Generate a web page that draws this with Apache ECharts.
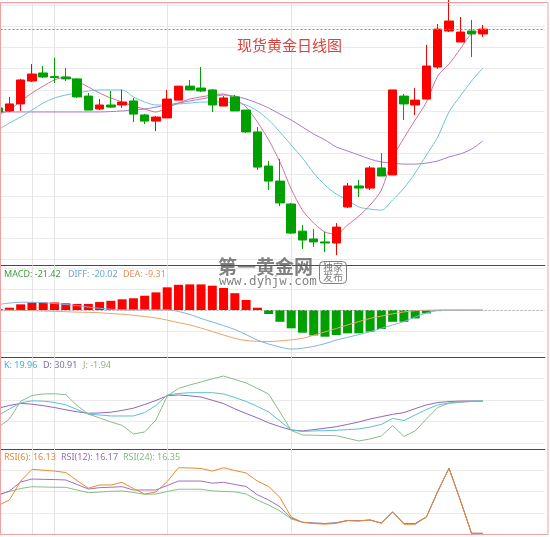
<!DOCTYPE html>
<html>
<head>
<meta charset="utf-8">
<script src="https://cdn.jsdelivr.net/npm/echarts@6/dist/echarts.min.js"></script>
<style>
  html, body { margin: 0; padding: 0; background: #fff; }
  #chart { width: 550px; height: 537px; }
</style>
</head>
<body>
<div id="chart"></div>
<script>
// 44 trading days plus a few empty slots on the right
const days = Array.from({ length: 49 }, (_, i) => String(i + 1));

// [open, close, lowest, highest]
const candles = [
  [1261.5, 1259.6, 1258.6, 1262.4], [1260.1, 1263.4, 1259.6, 1266.7], [1263.4, 1274.7, 1260.1, 1275.2],
  [1274.2, 1277.5, 1273.7, 1282.2], [1278.0, 1276.1, 1275.6, 1281.3], [1276.3, 1275.9, 1273.3, 1285.1],
  [1276.1, 1275.2, 1274.2, 1280.3], [1275.2, 1266.7, 1266.2, 1275.6], [1267.1, 1260.5, 1260.5, 1268.5],
  [1261.0, 1262.9, 1260.5, 1265.7], [1262.9, 1261.9, 1261.5, 1269.5], [1262.9, 1264.3, 1261.5, 1270.0],
  [1264.8, 1258.6, 1254.9, 1266.2], [1258.2, 1255.3, 1253.9, 1258.6], [1255.3, 1257.2, 1250.6, 1257.7],
  [1256.8, 1265.7, 1256.8, 1270.0], [1265.2, 1271.8, 1265.2, 1271.8], [1271.8, 1270.0, 1270.0, 1274.7],
  [1270.9, 1269.5, 1269.0, 1280.8], [1270.0, 1262.9, 1259.6, 1270.4], [1262.4, 1266.2, 1262.4, 1267.1],
  [1266.7, 1260.1, 1260.1, 1267.6], [1260.5, 1250.2, 1249.7, 1260.5], [1250.2, 1233.6, 1232.2, 1252.5],
  [1234.1, 1227.0, 1222.8, 1236.5], [1227.0, 1216.7, 1215.2, 1237.4], [1216.2, 1202.5, 1202.0, 1216.7],
  [1203.4, 1199.2, 1195.0, 1206.3], [1199.7, 1198.3, 1195.9, 1204.4], [1198.3, 1197.8, 1193.5, 1203.0],
  [1197.8, 1205.3, 1192.1, 1207.2], [1214.8, 1224.7, 1214.3, 1226.1], [1224.7, 1223.7, 1219.5, 1227.5],
  [1223.7, 1233.2, 1222.8, 1234.1], [1233.2, 1229.4, 1229.4, 1240.2], [1229.9, 1270.0, 1229.9, 1270.0],
  [1267.1, 1263.4, 1255.8, 1268.1], [1262.9, 1265.2, 1258.2, 1270.9], [1265.7, 1281.3, 1265.7, 1291.2],
  [1280.8, 1298.7, 1279.9, 1301.1], [1297.8, 1302.5, 1297.3, 1312.4], [1292.6, 1297.3, 1292.6, 1304.4],
  [1297.8, 1296.4, 1285.5, 1303.0], [1296.4, 1298.7, 1295.0, 1300.6]
];

const ma5 = [1258.6, 1260.5, 1264.8, 1268.5, 1271.8, 1274.7, 1276.1, 1274.2, 1271.4, 1268.5, 1266.2,
  1264.3, 1262.4, 1261.0, 1259.6, 1261.5, 1263.8, 1265.7, 1266.7, 1267.6, 1268.1, 1265.7, 1261.9,
  1254.9, 1246.4, 1236.0, 1223.3, 1213.3, 1207.2, 1203.0, 1202.0, 1206.3, 1210.5, 1215.7, 1222.8,
  1237.9, 1247.3, 1255.8, 1264.3, 1276.6, 1282.2, 1289.3, 1296.4, 1297.8];
const ma10 = [1251.1, 1254.4, 1257.2, 1260.5, 1263.8, 1266.2, 1267.6, 1268.5, 1269.5, 1270.0, 1270.0,
  1270.0, 1266.7, 1264.3, 1262.9, 1262.9, 1263.4, 1263.8, 1264.3, 1264.3, 1264.3, 1263.8, 1262.9,
  1260.1, 1255.8, 1250.2, 1244.0, 1237.9, 1230.8, 1225.1, 1220.9, 1218.1, 1214.8, 1213.8, 1213.3,
  1218.1, 1223.7, 1230.8, 1239.3, 1247.8, 1259.6, 1267.1, 1274.2, 1280.3];
const ma20 = [1259.6, 1259.6, 1259.6, 1259.6, 1259.6, 1259.6, 1259.6, 1259.6, 1259.6, 1259.6, 1259.8,
  1260.1, 1260.5, 1261.0, 1261.9, 1262.9, 1263.8, 1264.8, 1265.7, 1266.7, 1267.6, 1267.1, 1265.7,
  1263.8, 1261.5, 1258.6, 1255.8, 1252.5, 1249.2, 1246.4, 1243.1, 1241.2, 1239.3, 1237.4, 1236.0,
  1235.5, 1235.0, 1235.0, 1235.5, 1236.5, 1238.4, 1239.8, 1242.1, 1245.9];

const macdBar = [0.5, 1.1, 2.7, 3.6, 3.6, 3.6, 3.2, 2.9, 2.9, 3.8, 4.4, 5.1, 5.6, 6.8, 8.4, 10.8, 12.0,
  12.2, 12.2, 11.6, 10.5, 8.0, 4.8, 1.1, -1.9, -5.6, -8.7, -10.8, -12.1, -12.7, -11.9, -11.1, -11.1,
  -10.3, -9.0, -5.6, -5.6, -4.0, -1.6, -0.5, 0, 0, 0, 0];
const diff = [2.6, 3.3, 3.7, 3.7, 3.5, 3.1, 2.6, 2.1, 1.4, 0.8, 0.4, 0.1, 0.1, 0.1, 0.1, 0.1, -0.7, -2.1,
  -4.0, -5.7, -7.4, -9.3, -11.7, -14.3, -16.2, -17.6, -18.6, -18.2, -17.3, -16.0, -14.3, -13.0, -11.7,
  -10.3, -8.7, -7.1, -5.5, -3.3, -1.4, -0.2, 0, 0, 0, 0];
const dea = [0, -0.1, -0.2, -0.3, -0.5, -0.6, -0.8, -1.0, -1.1, -1.3, -1.7, -2.0, -2.5, -3.1, -3.8, -4.8,
  -6.0, -7.1, -8.6, -10.2, -11.9, -13.5, -14.5, -14.9, -15.0, -14.7, -14.2, -13.5, -12.0, -10.4, -8.8,
  -7.1, -5.5, -4.0, -2.9, -1.8, -0.9, -0.3, -0.1, 0, 0, 0, 0, 0];

const kLine = [25.7, 31.7, 37.2, 39.2, 38.9, 37.7, 35.5, 31.2, 26.9, 26.1, 25.2, 25.2, 25.2, 28.4, 34.9,
  44.6, 46.0, 46.7, 46.7, 46.7, 45.5, 42.3, 38.6, 34.0, 28.9, 20.6, 12.3, 10.9, 11.4, 11.6, 12.0, 12.6,
  13.2, 15.0, 17.4, 22.9, 21.0, 26.1, 31.2, 35.4, 37.2, 38.3, 38.9, 39.0];
const dLine = [32.3, 34.9, 36.8, 36.1, 34.7, 33.0, 30.9, 29.1, 27.7, 28.0, 28.7, 30.3, 32.4, 35.8, 39.5,
  43.9, 44.6, 43.8, 42.7, 39.7, 36.6, 31.8, 27.5, 23.4, 18.9, 15.3, 12.3, 11.4, 12.6, 13.9, 15.3, 17.4,
  19.7, 22.4, 24.6, 26.7, 28.3, 32.0, 35.4, 37.6, 38.5, 39.0, 39.0, 39.0];
const jLine = [14.6, 22.4, 38.8, 44.1, 45.5, 45.7, 44.9, 34.9, 27.0, 23.4, 19.7, 16.5, 8.6, 10.4, 21.5,
  43.7, 50.6, 53.8, 56.6, 59.5, 62.1, 58.9, 55.7, 50.6, 45.5, 28.9, 11.8, 7.7, 7.4, 7.2, 7.0, 4.6, 2.1,
  4.0, 6.7, 16.4, 6.3, 11.4, 22.4, 33.0, 36.9, 37.8, 38.5, 39.0];

const rsi6 = [27.0, 32.2, 50.0, 61.0, 60.2, 59.4, 58.0, 50.5, 43.3, 46.3, 46.3, 48.8, 43.0, 37.8, 39.7,
  49.6, 62.5, 62.3, 61.8, 59.4, 62.5, 59.9, 57.6, 50.0, 44.9, 34.6, 16.2, 11.3, 10.1, 9.5, 10.3, 12.8,
  12.5, 13.4, 10.3, 21.2, 9.4, 9.4, 16.2, 40.2, 62.0, 32.2, 0.9, 0.9];
const rsi12 = [36.4, 40.7, 49.1, 51.9, 51.6, 51.4, 51.0, 46.8, 42.5, 43.8, 44.2, 44.7, 41.6, 41.6, 41.6,
  45.8, 50.0, 50.0, 50.0, 48.0, 48.8, 46.8, 44.9, 37.1, 32.2, 25.9, 15.3, 11.3, 10.6, 10.1, 10.8, 13.0,
  12.7, 13.4, 10.6, 20.9, 10.1, 10.1, 16.4, 40.2, 62.0, 32.2, 0.9, 0.9];
const rsi24 = [37.4, 40.2, 43.0, 44.7, 44.4, 44.2, 44.1, 41.6, 39.1, 39.7, 40.4, 40.7, 39.3, 37.6, 37.8,
  40.2, 42.3, 42.3, 42.3, 40.8, 40.2, 39.9, 37.8, 32.2, 27.5, 21.9, 14.4, 11.3, 10.6, 10.1, 10.8, 13.0,
  12.7, 13.4, 10.6, 20.9, 10.1, 10.1, 16.4, 40.2, 62.0, 32.2, 0.9, 0.9];

// days that carry a vertical guide line
const guideDays = [3, 5, 15, 26].map(i => days[i]);
const lastClose = candles[candles.length - 1][1];

const macdText = ['MACD: -21.42', 'DIFF: -20.02', 'DEA: -9.31'];
const kdjText = ['K: 19.96', 'D: 30.91', 'J: -1.94'];
const rsiText = ['RSI(6): 16.13', 'RSI(12): 16.17', 'RSI(24): 16.35'];

const UP = '#fe0000', DOWN = '#00a000';
const GRID_LINE = '#ebebeb';

const chart = echarts.init(document.getElementById('chart'));

function xAx(gridIndex, sep) {
  return {
    type: 'category', gridIndex: gridIndex, data: days, boundaryGap: true,
    position: 'top',
    axisLine: { show: sep, onZero: false, lineStyle: { color: '#4a4a4a', width: 1 } },
    axisTick: { show: false }, axisLabel: { show: false }, splitLine: { show: false }
  };
}
function yAx(gridIndex, min, max, splitNumber) {
  return {
    type: 'value', gridIndex: gridIndex, min: min, max: max, splitNumber: splitNumber, scale: true,
    axisLine: { show: false }, axisTick: { show: false }, axisLabel: { show: false },
    splitLine: { show: true, lineStyle: { color: GRID_LINE, width: 1 } }
  };
}
function guides() {
  return {
    silent: true, symbol: ['none', 'none'], z: 1,
    label: { show: false },
    lineStyle: { color: '#e4e4e4', type: 'solid', width: 1 },
    data: guideDays.map(d => ({ xAxis: d }))
  };
}
function line(name, data, color, xi, smooth) {
  return {
    name: name, type: 'line', data: data, xAxisIndex: xi, yAxisIndex: xi,
    showSymbol: false, smooth: smooth, lineStyle: { color: color, width: 1 }, z: 3
  };
}
function label(x, y, text, color) {
  return { type: 'text', x: x, y: y, z: 50,
    style: { text: text, fill: color, font: '9px "Noto Sans"', verticalAlign: 'middle' } };
}

// first candle is cut by the left edge, so the plot starts a bit outside the canvas
const L = -7.5, R = 5.2;
const wm = 'rgba(80,80,80,0.72)';

function grid(top, height) {
  return { left: L, right: R, top: top, height: height, outerBoundsMode: 'none', containLabel: false };
}

chart.setOption({
  animation: false,
  backgroundColor: '#fff',
  grid: [grid(3, 262.7), grid(265.7, 91.8), grid(357.5, 91.5), grid(449, 85.3)],
  xAxis: [xAx(0, false), xAx(1, true), xAx(2, true), xAx(3, true)],
  yAxis: [
    yAx(0, 1187.1, 1311.0, 12),
    yAx(1, -22.6, 21.1, 4),
    yAx(2, -5.3, 79.2, 4),
    yAx(3, 0, 80.1, 4)
  ],
  series: [
    {
      name: 'K', type: 'candlestick', data: candles, barWidth: 9, clip: false, z: 4,
      itemStyle: { color: UP, color0: DOWN, borderColor: UP, borderColor0: DOWN, borderWidth: 1 },
      markLine: {
        silent: true, symbol: ['none', 'none'], label: { show: false },
        lineStyle: { color: '#e06a6a', type: [2, 2], width: 1 },
        data: [{ yAxis: lastClose }]
      }
    },
    Object.assign(line('MA20', ma20, '#a77cc7', 0, 0.3), { markLine: guides() }),
    line('MA10', ma10, '#6cc5d8', 0, 0.3),
    line('MA5', ma5, '#d0709f', 0, 0.3),

    {
      name: 'MACD', type: 'bar', data: macdBar, xAxisIndex: 1, yAxisIndex: 1, barWidth: 9, z: 2,
      itemStyle: { color: p => (p.value >= 0 ? UP : DOWN) },
      markLine: {
        silent: true, symbol: ['none', 'none'], label: { show: false },
        lineStyle: { color: '#b0b0b0', type: [2, 2], width: 1 },
        data: [{ yAxis: 0 }]
      }
    },
    Object.assign(line('DEA', dea, '#e8a36a', 1, 0.3), { markLine: guides() }),
    line('DIFF', diff, '#7fb2e0', 1, 0.3),

    Object.assign(line('D', dLine, '#9166b8', 2, false), { markLine: guides() }),
    line('Kl', kLine, '#5bbfd6', 2, false),
    line('J', jLine, '#8cba8c', 2, false),

    Object.assign(line('RSI24', rsi24, '#86bf86', 3, false), { markLine: guides() }),
    line('RSI12', rsi12, '#a070c0', 3, false),
    line('RSI6', rsi6, '#e88a30', 3, false)
  ],
  graphic: [
    { type: 'text', x: 237, y: 45, z: 50,
      style: { text: '现货黄金日线图', fill: '#d8433d', font: '15px "Noto Sans CJK SC"', verticalAlign: 'middle' } },

    label(4, 274, macdText[0], '#3f9a3f'),
    label(68, 274, macdText[1], '#6fa3d8'),
    label(123, 274, macdText[2], '#e0915a'),
    label(4, 365.7, kdjText[0], '#48b0d0'),
    label(43, 365.7, kdjText[1], '#7d6ea8'),
    label(83, 365.7, kdjText[2], '#98b07a'),
    label(4, 457.3, rsiText[0], '#e08a3a'),
    label(61, 457.3, rsiText[1], '#9a6ab8'),
    label(123, 457.3, rsiText[2], '#84b884'),

    // watermark
    { type: 'text', x: 218, y: 266.5, z: 60,
      style: { text: '第一黄金网', fill: wm, font: 'bold 19px "Noto Sans CJK SC"', verticalAlign: 'middle' } },
    { type: 'text', x: 219, y: 282, z: 60,
      style: { text: 'www.dyhjw.com', fill: wm, font: '12.5px "DejaVu Sans Mono"', verticalAlign: 'middle' } },
    { type: 'rect', z: 60, shape: { x: 319.5, y: 261.5, width: 27, height: 22, r: 4 },
      style: { fill: 'rgba(255,255,255,0.3)', stroke: wm, lineWidth: 1 } },
    { type: 'text', x: 333, y: 267.5, z: 60,
      style: { text: '独家', fill: wm, font: '10px "Noto Sans CJK SC"', align: 'center', verticalAlign: 'middle' } },
    { type: 'text', x: 333, y: 277.5, z: 60,
      style: { text: '发布', fill: wm, font: '10px "Noto Sans CJK SC"', align: 'center', verticalAlign: 'middle' } },

    // outer frame
    { type: 'rect', z: 100, silent: true, shape: { x: 0.5, y: 2.5, width: 547.5, height: 532 },
      style: { fill: 'none', stroke: '#f2a0a0', lineWidth: 1 } }
  ]
});
</script>
</body>
</html>
